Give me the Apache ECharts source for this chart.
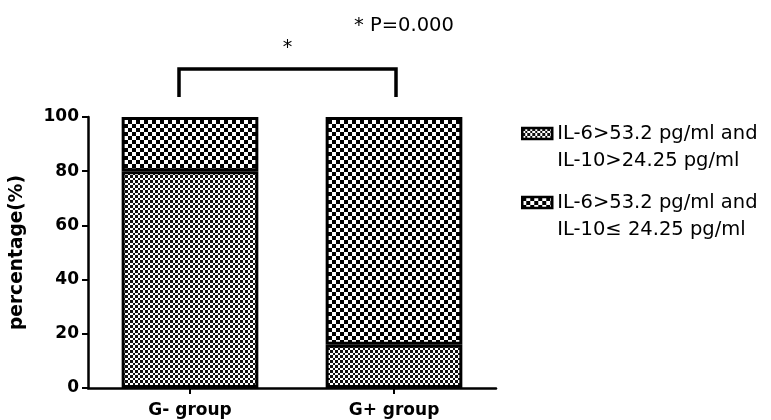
<!DOCTYPE html>
<html>
<head>
<meta charset="utf-8">
<script src="https://cdn.jsdelivr.net/npm/echarts@6/dist/echarts.min.js"></script>
<style>
html,body{margin:0;padding:0;background:#fff;}
#chart{width:771px;height:420px;}
</style>
</head>
<body>
<div id="chart"></div>
<script>
// ---- data ----
var categories = ['G- group', 'G+ group'];
var seriesNames = ['IL-6>53.2 pg/ml and\nIL-10>24.25 pg/ml', 'IL-6>53.2 pg/ml and\nIL-10\u2264 24.25 pg/ml'];
var highBoth = [80, 16];      // IL-10 > 24.25 (fine pattern, bottom)
var lowIL10 = [20, 84];       // IL-10 <= 24.25 (coarse pattern, top)
var yTicks = [0, 20, 40, 60, 80, 100];
var pText = '* P=0.000';
var starText = '*';

// ---- patterns ----
function checker(bounds, size, dark, light) {
  var c = document.createElement('canvas');
  c.width = size; c.height = size;
  var ctx = c.getContext('2d');
  ctx.fillStyle = light; ctx.fillRect(0, 0, size, size);
  ctx.fillStyle = dark;
  for (var i = 0; i < bounds.length - 1; i++) {
    for (var j = 0; j < bounds.length - 1; j++) {
      if ((i + j) % 2 === 0) {
        ctx.fillRect(bounds[i], bounds[j], bounds[i + 1] - bounds[i], bounds[j + 1] - bounds[j]);
      }
    }
  }
  return { image: c, repeat: 'repeat' };
}
var finePattern = checker([0, 3, 5, 8, 10], 10, '#111', '#fff');
var coarsePattern = checker([0, 4, 8], 8, '#000', '#fff');

var FONT = 'DejaVu Sans';
var chart = echarts.init(document.getElementById('chart'), null, { renderer: 'canvas' });

var legendText = {
  fontFamily: FONT, fontSize: 19.5, color: '#000', lineHeight: 27
};
function legendFormatter(name) { return '\n' + name; }

var option = {
  animation: false,
  backgroundColor: '#fff',
  grid: { left: 86, right: 275, top: 117, bottom: 32, containLabel: false },
  legend: [
    {
      data: [seriesNames[0]], orient: 'vertical', left: 521, top: 93, padding: 0,
      icon: 'rect', itemWidth: 30, itemHeight: 11,
      itemStyle: { borderColor: '#000', borderWidth: 2.5 },
      formatter: legendFormatter,
      textStyle: legendText, selectedMode: false
    },
    {
      data: [seriesNames[1]], orient: 'vertical', left: 521, top: 162, padding: 0,
      icon: 'rect', itemWidth: 30, itemHeight: 11,
      itemStyle: { borderColor: '#000', borderWidth: 2.5 },
      formatter: legendFormatter,
      textStyle: legendText, selectedMode: false
    }
  ],
  xAxis: {
    type: 'category',
    data: categories,
    axisLine: { lineStyle: { color: '#000', width: 2.5 } },
    axisTick: { show: true, alignWithLabel: true, length: 6, lineStyle: { color: '#000', width: 2 } },
    axisLabel: { color: '#000', fontFamily: FONT, fontWeight: 'bold', fontSize: 17, margin: 14 }
  },
  yAxis: {
    type: 'value',
    min: yTicks[0], max: yTicks[yTicks.length - 1], interval: yTicks[1] - yTicks[0],
    name: 'percentage(%)',
    nameLocation: 'middle',
    nameGap: 61,
    nameTextStyle: { color: '#000', fontFamily: FONT, fontWeight: 'bold', fontSize: 18.6 },
    axisLine: { show: true, lineStyle: { color: '#000', width: 2.5 } },
    axisTick: { show: true, length: 6, lineStyle: { color: '#000', width: 2 } },
    splitLine: { show: false },
    axisLabel: { color: '#000', fontFamily: FONT, fontWeight: 'bold', fontSize: 17, margin: 9 }
  },
  series: [
    {
      name: seriesNames[0], type: 'bar', stack: 'total', barWidth: '67%',
      data: highBoth,
      itemStyle: { color: finePattern, borderColor: '#000', borderWidth: 3 }
    },
    {
      name: seriesNames[1], type: 'bar', stack: 'total', barWidth: '67%',
      data: lowIL10,
      itemStyle: { color: coarsePattern, borderColor: '#000', borderWidth: 3 }
    }
  ],
  graphic: [
    {
      type: 'polyline',
      shape: { points: [[179, 97], [179, 69], [396, 69], [396, 97]] },
      style: { stroke: '#000', lineWidth: 3.5, fill: null, lineJoin: 'miter' }
    },
    {
      type: 'text', x: 287.5, y: 48,
      style: { text: starText, fill: '#000', font: '19px "DejaVu Sans"', align: 'center', verticalAlign: 'middle' }
    },
    {
      type: 'text', x: 354, y: 26,
      style: { text: pText, fill: '#000', font: '19.5px "DejaVu Sans"', align: 'left', verticalAlign: 'middle' }
    }
  ]
};
chart.setOption(option);
</script>
</body>
</html>
